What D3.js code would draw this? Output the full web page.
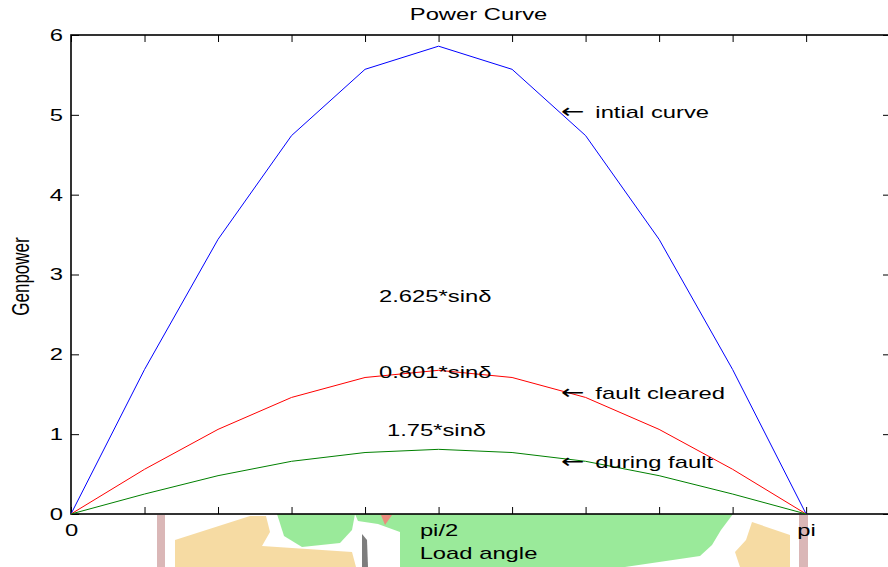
<!DOCTYPE html>
<html>
<head>
<meta charset="utf-8">
<script src="https://d3js.org/d3.v7.min.js"></script>
<style>
  body { margin: 0; background: white; }
  svg { display: block; }
</style>
</head>
<body>
<script>
// load angle samples (0 .. pi in steps of pi/10)
var delta = [0, 0.3142, 0.6283, 0.9425, 1.2566, 1.5708, 1.8850, 2.1991, 2.5133, 2.8274, 3.1416];

// generated power for each case
var initialCurve  = [0, 1.81, 3.44, 4.74, 5.57, 5.86, 5.57, 4.74, 3.44, 1.81, 0];
var faultCleared  = [0, 0.56, 1.06, 1.46, 1.71, 1.80, 1.71, 1.46, 1.06, 0.56, 0];
var duringFault   = [0, 0.25, 0.48, 0.66, 0.77, 0.81, 0.77, 0.66, 0.48, 0.25, 0];

var seriesNames  = ["intial curve", "fault cleared", "during fault"];
var seriesColors = ["#0000ff", "#ff0000", "#008000"];

var xTickValues = [0, 0.3142, 0.6283, 0.9425, 1.2566, 1.5708, 1.8850, 2.1991, 2.5133, 2.8274, 3.1416];
var xTickLabels = {"0": "0", "1.5708": "pi/2", "3.1416": "pi"};
var yTickValues = [0, 1, 2, 3, 4, 5, 6];

// text annotations (data coordinates)
var formulaText = ["2.625*sin\u03b4", "0.801*sin\u03b4", "1.75*sin\u03b4"];
var formulaX    = [1.316, 1.316, 1.35];
var formulaY    = [2.73, 1.78, 1.05];
var arrowX      = 2.0944;            // 2*pi/3
var arrowY      = [5.04, 1.52, 0.65];

var W = 888, H = 567;
var margin = {top: 35, right: -2, bottom: 53, left: 71},
    width  = W - margin.left - margin.right,
    height = H - margin.top - margin.bottom;

var stretch = 1.4;   // the picture is wider than tall, text is too
var font = "'Liberation Sans', Arial, Helvetica, sans-serif";

var svg = d3.select("body")
  .append("svg")
  .attr("width", W)
  .attr("height", H)
  .style("background-color", "white");

// faint logo behind the x axis labels
var wm = svg.append("g").attr("class", "watermark").attr("opacity", 0.9);
wm.append("polygon").attr("points", "355,514 733,514 721,530 712,545 700,556 625,567 400,567 400,532 378,524 358,521").attr("fill", "#90e890");
wm.append("polygon").attr("points", "277,514 355,514 352,530 340,543 302,547 284,536").attr("fill", "#90e890");
wm.append("polygon").attr("points", "175,540 250,516 266,516 270,532 262,546 352,552 356,567 175,567").attr("fill", "#f6d89a");
wm.append("polygon").attr("points", "752,522 790,535 790,567 740,567 735,552 746,540").attr("fill", "#f6d89a");
wm.append("rect").attr("x", 157).attr("y", 515).attr("width", 8).attr("height", 52).attr("fill", "#d6b0b0");
wm.append("rect").attr("x", 799).attr("y", 515).attr("width", 9).attr("height", 52).attr("fill", "#d6b0b0");
wm.append("polygon").attr("points", "362,534 367,540 368,567 362,567").attr("fill", "#707070");
wm.append("polygon").attr("points", "381,515 392,515 385,525").attr("fill", "#e88070");

var g = svg.append("g")
  .attr("transform", "translate(" + margin.left + "," + margin.top + ")");

var x = d3.scaleLinear().domain([0, 3.5]).range([0, width]);
var y = d3.scaleLinear().domain([0, 6]).range([height, 0]);

function styleAxis(sel, withText) {
  sel.select(".domain").remove();
  sel.selectAll(".tick line").attr("stroke", "black").attr("stroke-width", 1);
  sel.attr("font-family", font).attr("font-size", 17);
  if (!withText) sel.selectAll(".tick text").remove();
}

// left axis
var yAxis = g.append("g")
  .call(d3.axisLeft(y).tickValues(yTickValues).tickSize(-8).tickPadding(0).tickFormat(d3.format("d")));
styleAxis(yAxis, true);
yAxis.selectAll(".tick text")
  .attr("x", 0)
  .attr("fill", "black")
  .attr("transform", "translate(-8,0) scale(" + stretch + ",1)");

// right axis (off the edge, only ticks show)
var rAxis = g.append("g").attr("transform", "translate(" + width + ",0)")
  .call(d3.axisRight(y).tickValues(yTickValues).tickSize(-7));
styleAxis(rAxis, false);

// bottom axis
var xAxis = g.append("g").attr("transform", "translate(0," + height + ")")
  .call(d3.axisBottom(x).tickValues(xTickValues).tickSize(-7).tickPadding(0)
    .tickFormat(function(d) { return xTickLabels[String(d)] || ""; }));
styleAxis(xAxis, true);
xAxis.selectAll(".tick text")
  .attr("y", 0)
  .attr("dy", null)
  .attr("fill", "black")
  .attr("transform", "translate(0,22) scale(" + stretch + ",1)");

// top axis
var tAxis = g.append("g")
  .call(d3.axisTop(x).tickValues(xTickValues).tickSize(-7));
styleAxis(tAxis, false);

// box
g.append("rect")
  .attr("x", 0).attr("y", 0)
  .attr("width", width).attr("height", height)
  .attr("fill", "none")
  .attr("stroke", "black")
  .attr("stroke-width", 1.6);

// curves
var allSeries = [initialCurve, faultCleared, duringFault];
var line = d3.line()
  .x(function(d, i) { return x(delta[i]); })
  .y(function(d) { return y(d); });

g.selectAll("path.curve")
  .data(allSeries)
  .enter()
  .append("path")
  .attr("class", "curve")
  .attr("d", line)
  .attr("fill", "none")
  .attr("stroke", function(d, i) { return seriesColors[i]; })
  .attr("stroke-width", 1);

// helper for stretched text
function label(px, py, txt, anchor, rot) {
  var t = "translate(" + px + "," + py + ") scale(" + stretch + ",1)";
  if (rot) t += " rotate(" + rot + ")";
  return svg.append("text")
    .attr("transform", t)
    .attr("text-anchor", anchor)
    .attr("font-family", font)
    .attr("font-size", 17)
    .attr("fill", "black")
    .text(txt);
}

// arrows pointing at the curves
seriesNames.forEach(function(name, i) {
  var t = label(margin.left + x(arrowX), margin.top + y(arrowY[i]) + 6, "", "start");
  t.append("tspan")
    .attr("font-family", "'DejaVu Sans'")
    .attr("font-size", 20)
    .text("\u2190");
  t.append("tspan").attr("dx", 3).text(" " + name);
});

// formula labels
formulaText.forEach(function(t, i) {
  label(margin.left + x(formulaX[i]), margin.top + y(formulaY[i]) + 6, t, "start");
});

// title and axis labels
label(margin.left + width / 2 - 2, 20, "Power Curve", "middle");
label(margin.left + width / 2 - 2, 559, "Load angle", "middle");
label(29, margin.top + height / 2 + 2, "Genpower", "middle", -90);
</script>
</body>
</html>
